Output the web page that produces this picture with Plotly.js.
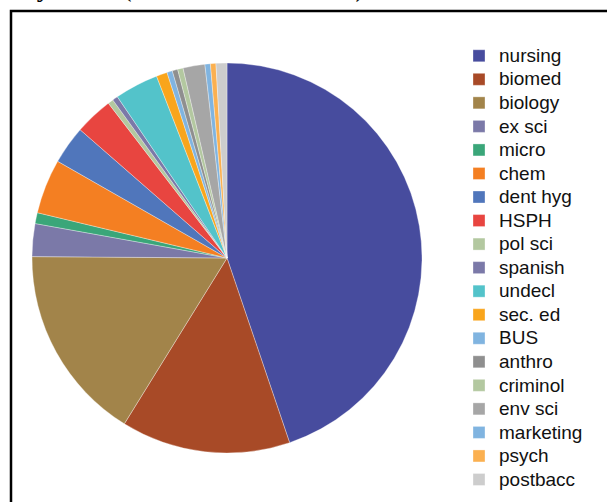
<!DOCTYPE html>
<html>
<head>
<meta charset="utf-8">
<script src="https://cdn.plot.ly/plotly-3.0.1.min.js"></script>
<style>html,body{margin:0;padding:0;background:#fff;}#chart{width:607px;height:502px;}</style>
</head>
<body>
<div id="chart"></div>
<script>
// Categories (majors) and number of advisees
const majors = ["nursing","biomed","biology","ex sci","micro","chem","dent hyg","HSPH","pol sci","spanish","undecl","sec. ed","BUS","anthro","criminol","env sci","marketing","psych","postbacc"];
const advisees = [99, 31, 36, 6, 2, 10, 7, 7, 1, 1, 8, 2, 1, 1, 1, 4, 1, 1, 2];
const sliceColors = ["#474C9E","#A84A27","#A2844A","#7B79A8","#3AA679","#F47F22","#5076BB","#E84540","#B3C8A0","#7B79A8","#53C3CA","#F9A51C","#80B4E0","#8F8F8F","#B3C8A0","#A6A6A6","#80B4E0","#FBB050","#CDCDCD"];
const titleText = "By trend (no. of advisees total)";

const W = 607, H = 502;
const cx = 227, cy = 258, r = 195;

const trace = {
  type: "pie",
  labels: majors.map(m => '<span style="font-size:19px">' + m + '</span>'),
  values: advisees,
  sort: false,
  direction: "clockwise",
  rotation: 0,
  textinfo: "none",
  hoverinfo: "label+value",
  marker: { colors: sliceColors, line: { color: "rgba(255,255,255,0.55)", width: 0.6 } },
  domain: { x: [(cx - r) / W, (cx + r) / W], y: [1 - (cy + r) / H, 1 - (cy - r) / H] }
};

const layout = {
  width: W, height: H,
  margin: { l: 0, r: 0, t: 0, b: 0 },
  paper_bgcolor: "#ffffff",
  font: { family: "Liberation Sans, Arial, sans-serif", color: "#111" },
  showlegend: true,
  legend: {
    x: 459 / W, y: 1 - 39 / H, xanchor: "left", yanchor: "top",
    font: { size: 15.8, family: "Liberation Sans, Arial, sans-serif", color: "#111" },
    bgcolor: "rgba(0,0,0,0)"
  },
  shapes: [{
    type: "rect", xref: "paper", yref: "paper",
    x0: 11 / W, x1: 1.05, y0: -0.05, y1: 1 - 11 / H,
    line: { color: "#000", width: 2.5 }, fillcolor: "rgba(0,0,0,0)", layer: "above"
  }],
  annotations: [{
    text: titleText, xref: "paper", yref: "paper",
    x: 16 / W, y: 1 - 4 / H, xanchor: "left", yanchor: "bottom",
    showarrow: false,
    font: { family: "Liberation Serif, Times New Roman, serif", size: 28, color: "#000" }
  }]
};

Plotly.newPlot("chart", [trace], layout, { displayModeBar: false, staticPlot: true });
</script>
</body>
</html>
